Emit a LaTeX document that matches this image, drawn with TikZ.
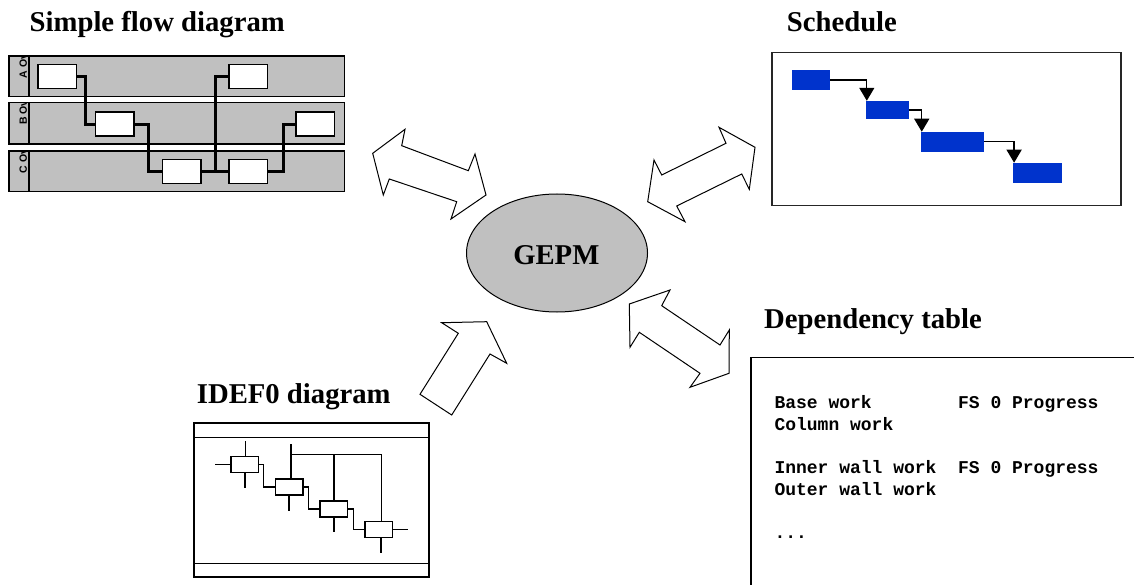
\documentclass[tikz,border=0pt]{standalone}
\usepackage{fontspec}
\setmainfont{Liberation Serif}
\newfontfamily\tablefont{Liberation Mono}
\newfontfamily\lanefont{Liberation Sans}
\usetikzlibrary{shapes.geometric,arrows.meta}
\definecolor{panelgray}{HTML}{C0C0C0}
\definecolor{barblue}{HTML}{0033CC}
\tikzset{
  titletext/.style={anchor=base west,inner sep=0,font=\fontsize{28.7}{32}\selectfont\bfseries},
  tabletext/.style={anchor=base west,inner sep=0,font=\tablefont\bfseries\fontsize{18}{20}\selectfont},
  fatarrow/.style={draw=black,fill=white,line width=1pt,line join=miter},
  laneband/.style={draw=black,fill=panelgray,line width=1.5pt},
  lanelabel/.style={rotate=90,anchor=base west,inner sep=0,font=\lanefont\bfseries\fontsize{10.5}{11}\selectfont},
  flowbox/.style={draw=black,fill=white,line width=1.5pt,minimum width=38.5pt,minimum height=24pt,inner sep=0},
  flowline/.style={draw=black,line width=3pt},
  bar/.style={fill=barblue,inner sep=0},
  schedarrow/.style={draw=black,line width=1.3pt,-{Triangle[width=15pt,length=13pt]}},
  idefbox/.style={draw=black,fill=white,line width=1.5pt,minimum width=27.5pt,minimum height=16pt,inner sep=0},
  idefline/.style={draw=black,line width=1.5pt},
  frame/.style={draw=black,line width=1.5pt}
}
\begin{document}
\begin{tikzpicture}[x=1pt,y=-1pt]
\path[use as bounding box] (0,0) rectangle (1134,585);

% ---------- titles ----------
\node[titletext] (t1) at (29.5,31.7) {Simple flow diagram};
\node[titletext] (t2) at (786.7,31.7) {Schedule};
\node[titletext] (t3) at (764,328.3) {Dependency table};
\node[titletext] (t4) at (196.7,403.3) {IDEF0 diagram};

% ---------- Simple flow diagram ----------
\foreach \top/\bot/\lab in {56/96.7/A Ov,102.7/144/B Ov,151/191.7/C Ov}{
  \draw[laneband] (9,\top) rectangle (344.3,\bot);
  \draw[line width=1.5pt] (29,\top) -- (29,\bot);
  \begin{scope}
    \clip (9.8,\top+0.8) rectangle (28.2,\bot-0.8);
    \node[lanelabel] at (26.8,\top+22.5) {\lab};
  \end{scope}
}
\node[flowbox] (a1) at (57.2,76.7) {};
\node[flowbox] (a2) at (248.2,76.7) {};
\node[flowbox] (b1) at (114.9,124.2) {};
\node[flowbox] (b2) at (315.2,124.2) {};
\node[flowbox] (c1) at (181.7,171.5) {};
\node[flowbox] (c2) at (248.4,171.5) {};
\coordinate (jn) at (215,171.5);
\draw[flowline] (a1.east) -- ++(8.3,0) |- (b1.west);
\draw[flowline] (b1.east) -- ++(13.7,0) |- (c1.west);
\draw[flowline] (c1.east) -- (c2.west);
\draw[flowline] (jn) |- (a2.west);
\draw[flowline] (c2.east) -- ++(15,0) |- (b2.west);

% ---------- Schedule ----------
\draw[draw=black!85,line width=1.2pt] (772,52.7) rectangle (1121,205.7);
\node[bar,minimum width=38pt,minimum height=20pt] (s1) at (811,80) {};
\node[bar,minimum width=43pt,minimum height=18pt] (s2) at (887.5,110) {};
\node[bar,minimum width=62.7pt,minimum height=19.7pt] (s3) at (952.3,141.8) {};
\node[bar,minimum width=49pt,minimum height=19.7pt] (s4) at (1037.5,172.8) {};
\draw[schedarrow] (s1.east) -| ([xshift=1pt]s2.north west);
\draw[schedarrow] (s2.east) -| ([xshift=1pt]s3.north west);
\draw[schedarrow] (s3.east) -| ([xshift=1.3pt]s4.north west);

% ---------- IDEF0 diagram ----------
\draw[line width=2pt] (194.3,423.3) rectangle (429,576.7);
\draw[idefline] (193.5,437.7) -- (429,437.7);
\draw[idefline] (193.5,563.3) -- (429,563.3);
\node[idefbox] (i1) at (244.9,464.5) {};
\node[idefbox] (i2) at (289,487) {};
\node[idefbox] (i3) at (333.9,509) {};
\node[idefbox] (i4) at (378.7,529.7) {};
\draw[idefline] (i1.west) -- ++(-15.3,0);
\draw[idefline] ([xshift=0.8pt]i1.north) -- ++(0,-14.4);
\draw[idefline] (i1.south) -- ++(0,15);
\draw[idefline] (i1.east) -- ++(4,0) |- (i2.west);
\draw[idefline] ([xshift=2pt]i2.north) -- ++(0,-34.7);
\coordinate (ctl) at (291,454.3);
\draw[idefline] (ctl) -| (i3.north);
\draw[idefline] (ctl) -| ([xshift=3pt]i4.north);
\draw[idefline] (i2.south) -- ++(0,15);
\draw[idefline] (i2.east) -- ++(5,0) |- (i3.west);
\draw[idefline] (i3.south) -- ++(0,14.4);
\draw[idefline] (i3.east) -- ++(5,0) |- (i4.west);
\draw[idefline] (i4.east) -- ++(14.4,0);
\draw[idefline] ([xshift=2.4pt]i4.south) -- ++(0,15);

% ---------- Dependency table ----------
\begin{scope}
  \clip (740,340) rectangle (1134,585);
  \draw[frame] (751,590) -- (751,357.5) -- (1140,357.5);
\end{scope}
\node[tabletext] (r1a) at (774.3,408.3) {Base work};
\node[tabletext] (r1b) at (957.9,408.3) {FS 0 Progress};
\node[tabletext] (r2)  at (774.3,430) {Column work};
\node[tabletext] (r3a) at (774.3,473.3) {Inner wall work};
\node[tabletext] (r3b) at (957.9,473.3) {FS 0 Progress};
\node[tabletext] (r4)  at (774.3,495) {Outer wall work};
\node[tabletext] (r5)  at (774.3,538.3) {...};

% ---------- GEPM ----------
\node[ellipse,draw=black,line width=1pt,fill=panelgray,minimum width=181pt,minimum height=118pt,inner sep=0] (gepm) at (557,253) {};
\node[anchor=base,inner sep=0,font=\fontsize{28.7}{32}\selectfont\bfseries] (gepmtext) at (556.3,265) {GEPM};

% ---------- fat arrows ----------
\draw[fatarrow] (372.7,153.3) -- (405,129.3) -- (401.7,145.7) -- (468.3,170.7) -- (475,154)
  -- (486,195) -- (451,219) -- (456.7,201.7) -- (389.3,179) -- (383.3,195) -- cycle;
\draw[fatarrow] (719,127.3) -- (755,147.3) -- (749.3,189.3) -- (741.7,174) -- (676.7,206)
  -- (685,221.7) -- (647.7,201.7) -- (654,160) -- (661.7,175) -- (726,143.3) -- cycle;
\draw[fatarrow] (670,290) -- (661.7,305.7) -- (720,345) -- (729.3,330) -- (729,373.3)
  -- (690,387.3) -- (700,373.3) -- (639.3,332.3) -- (630,347.3) -- (629.3,304) -- cycle;
\draw[fatarrow] (420,394.3) -- (458.3,333.3) -- (441.7,322.7) -- (486.7,321.7) -- (506.7,363.3)
  -- (490,354) -- (451.7,415) -- cycle;
\end{tikzpicture}
\end{document}
